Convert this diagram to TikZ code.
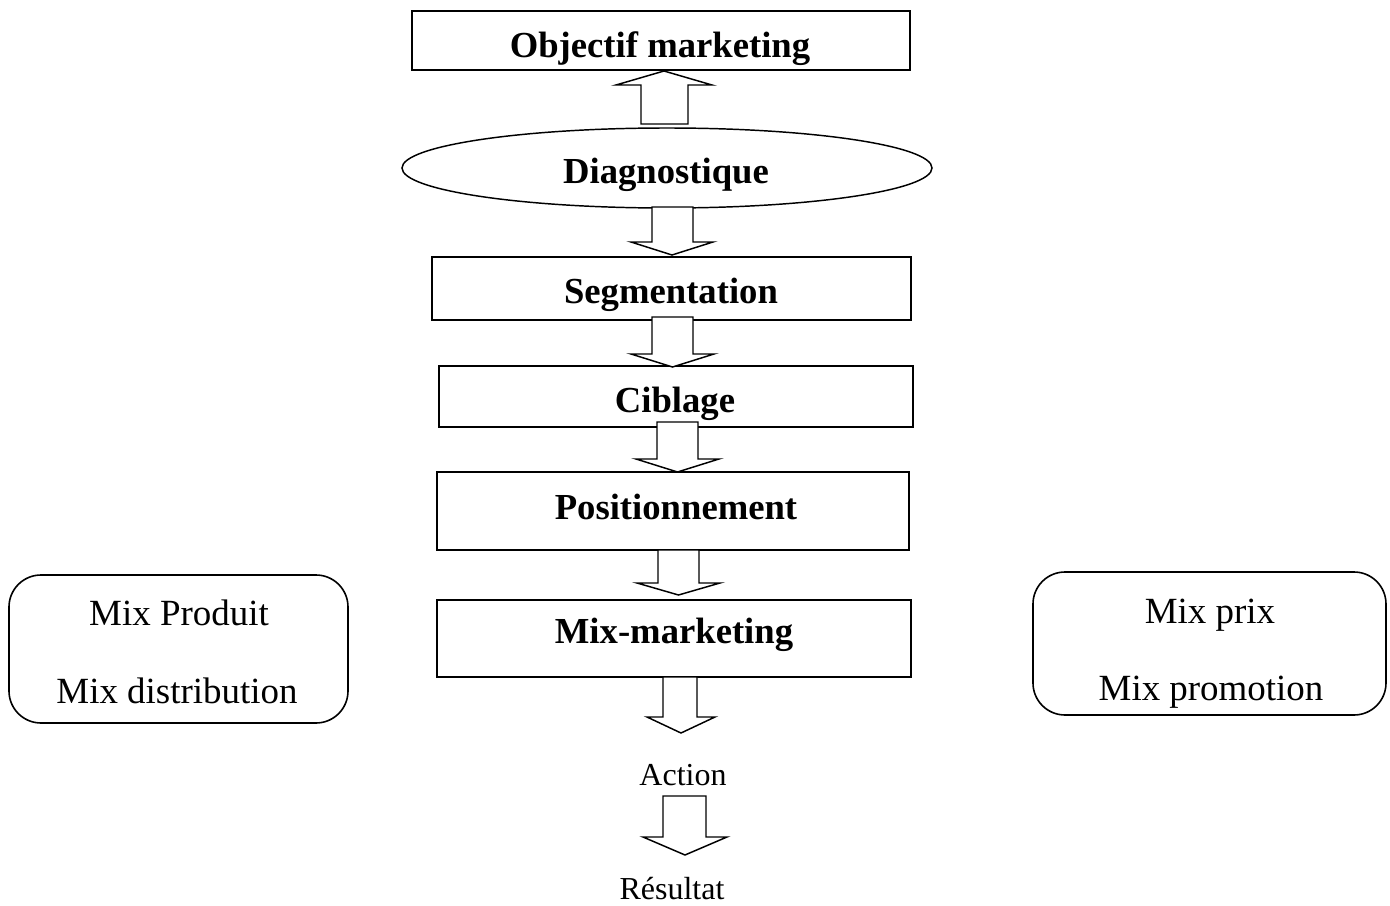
\documentclass[tikz,border=0pt]{standalone}
\usepackage{fontspec}
\setmainfont{Liberation Serif}
\usetikzlibrary{shapes.geometric}
\newcommand\bxnode[6]{\node[#6, minimum width={(#4-#2)*0.75pt}, minimum height={(#5-#3)*0.75pt}] (#1) at ({(#2+#4)/2},{(#3+#5)/2}) {};}
\newcommand\blkarrow[7]{\draw[blkarr] (#1,#3) -- (#1,#4) -- (#5,#4) -- ({(#5+#6)/2},#7) -- (#6,#4) -- (#2,#4) -- (#2,#3) -- cycle;}
\tikzset{
  stagebox/.style={draw, line width=1.4pt, inner sep=0pt, outer sep=0pt},
  mixbox/.style={draw, line width=1.2pt, rounded corners=24pt, inner sep=0pt, outer sep=0pt},
  blkarr/.style={draw, fill=white, line width=1.1pt, line join=miter},
  boldlbl/.style={anchor=base, inner sep=0pt, font=\bfseries\fontsize{27.5}{33}\selectfont},
  normlbl/.style={anchor=base, inner sep=0pt, font=\fontsize{27.7}{33}\selectfont},
  smalllbl/.style={anchor=base, inner sep=0pt, font=\fontsize{24}{29}\selectfont}
}
\begin{document}
\begin{tikzpicture}[x=0.75pt, y=-0.75pt]
\useasboundingbox (0,0) rectangle (1390,906);
% boxes
\bxnode{obj}{412}{11}{910}{70}{stagebox}
\node[draw, ellipse, line width=1.1pt, inner sep=0pt, minimum width={530*0.75pt}, minimum height={80*0.75pt}] (diag) at (667,168) {};
\bxnode{seg}{432}{257}{911}{320}{stagebox}
\bxnode{cib}{439}{366}{913}{427}{stagebox}
\bxnode{pos}{437}{472}{909}{550}{stagebox}
\bxnode{mixm}{437}{600}{911}{677}{stagebox}
\bxnode{left}{9}{575}{348}{723}{mixbox}
\bxnode{right}{1033}{572}{1386}{715}{mixbox}
% arrows
\blkarrow{641}{688}{124}{85}{616}{712}{71}
\blkarrow{652}{693}{207}{242}{631}{713}{255}
\blkarrow{652}{693}{317}{354}{631}{714}{367}
\blkarrow{657}{698}{422}{459}{636}{719}{472}
\blkarrow{658}{699}{550}{583}{637}{720}{595}
\blkarrow{663}{697}{677}{717}{647}{715}{733}
\blkarrow{663}{706}{796}{837}{643}{727}{855}
% labels
\node[boldlbl] (tobj) at (660,58) {Objectif marketing};
\node[boldlbl] (tdiag) at (666,183) {Diagnostique};
\node[boldlbl] (tseg) at (671,303) {Segmentation};
\node[boldlbl] (tcib) at (675,412) {Ciblage};
\node[boldlbl] (tpos) at (676,519) {Positionnement};
\node[boldlbl] (tmix) at (674,643) {Mix-marketing};
\node[smalllbl] (action) at (683,785) {Action};
\node[smalllbl] (result) at (672,899) {Résultat};
\node[normlbl] (mprod) at (179,625) {Mix Produit};
\node[normlbl] (mdist) at (177,703) {Mix distribution};
\node[normlbl] (mprix) at (1210,623) {Mix prix};
\node[normlbl] (mpromo) at (1211,700) {Mix promotion};
\end{tikzpicture}
\end{document}
